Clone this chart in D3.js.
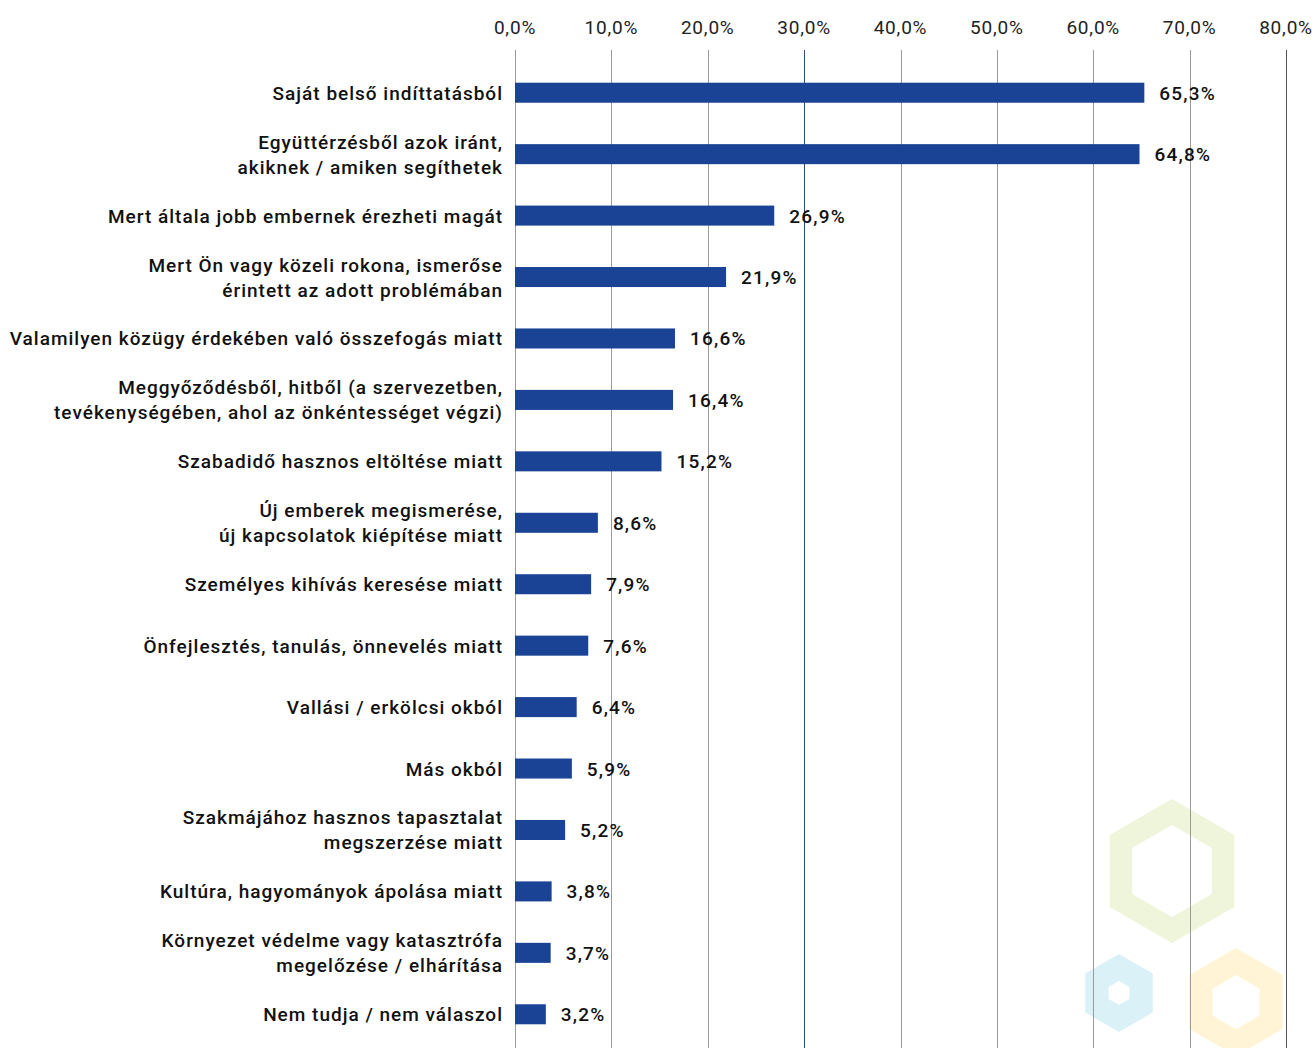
<!DOCTYPE html>
<html>
<head>
<meta charset="utf-8">
<script src="https://cdn.jsdelivr.net/npm/d3@7"></script>
<style>
  body { margin: 0; background: #fff; }
  text { font-family: Roboto, "DejaVu Sans Condensed", sans-serif; }
</style>
</head>
<body>
<svg id="chart" width="1316" height="1048"></svg>
<script>
// categories (multi-line labels split with "\n")
const categories = [
  "Saját belső indíttatásból",
  "Együttérzésből azok iránt,\nakiknek / amiken segíthetek",
  "Mert általa jobb embernek érezheti magát",
  "Mert Ön vagy közeli rokona, ismerőse\nérintett az adott problémában",
  "Valamilyen közügy érdekében való összefogás miatt",
  "Meggyőződésből, hitből (a szervezetben,\ntevékenységében, ahol az önkéntességet végzi)",
  "Szabadidő hasznos eltöltése miatt",
  "Új emberek megismerése,\núj kapcsolatok kiépítése miatt",
  "Személyes kihívás keresése miatt",
  "Önfejlesztés, tanulás, önnevelés miatt",
  "Vallási / erkölcsi okból",
  "Más okból",
  "Szakmájához hasznos tapasztalat\nmegszerzése miatt",
  "Kultúra, hagyományok ápolása miatt",
  "Környezet védelme vagy katasztrófa\nmegelőzése / elhárítása",
  "Nem tudja / nem válaszol"
];
const values = [65.3, 64.8, 26.9, 21.9, 16.6, 16.4, 15.2, 8.6, 7.9, 7.6, 6.4, 5.9, 5.2, 3.8, 3.7, 3.2];
const ticks = [0, 10, 20, 30, 40, 50, 60, 70, 80];

const fmt = v => v.toFixed(1).replace(".", ",") + "%";

const width = 1316, height = 1048;
const margin = { top: 62, right: 30, bottom: 3, left: 515 };

const svg = d3.select("#chart");

// decorative hexagons in the lower right corner
const hexes = [
  { cx: 1172, cy: 871, r: 72, inner: 46, color: "#eff5da" },
  { cx: 1119, cy: 993, r: 39, inner: 12, color: "#dbf1f8" },
  { cx: 1236, cy: 1002, r: 54, inner: 27, color: "#fff5d6" }
];
function hexPath(cx, cy, r) {
  const pts = d3.range(6).map(i => {
    const a = Math.PI / 3 * i - Math.PI / 2;
    return [cx + r * Math.cos(a), cy + r * Math.sin(a)];
  });
  return "M" + pts.join("L") + "Z";
}
svg.append("g").selectAll("path").data(hexes).join("path")
  .attr("d", d => hexPath(d.cx, d.cy, d.r) + hexPath(d.cx, d.cy, d.inner))
  .attr("fill", d => d.color)
  .attr("fill-rule", "evenodd");

const x = d3.scaleLinear().domain([0, 80]).range([margin.left, 1286]);
const y = d3.scaleBand().domain(categories).range([margin.top, height - margin.bottom]).paddingInner(0.674).paddingOuter(0.337);

// grid lines
svg.append("g").selectAll("line").data(ticks).join("line")
  .attr("x1", d => Math.round(x(d)) + 0.5)
  .attr("x2", d => Math.round(x(d)) + 0.5)
  .attr("y1", 50).attr("y2", height)
  .attr("stroke", d => d === 30 ? "#2a4f73" : d === 80 ? "#555" : "#9a9a9a")
  .attr("stroke-width", 1);

// top axis labels
svg.append("g").selectAll("text").data(ticks).join("text")
  .attr("x", d => x(d))
  .attr("y", 34)
  .attr("text-anchor", "middle")
  .attr("font-size", 19)
  .attr("letter-spacing", 0.8)
  .attr("fill", "#222")
  .text(d => fmt(d));

// bars
svg.append("g").selectAll("rect").data(values).join("rect")
  .attr("x", x(0))
  .attr("y", (d, i) => y(categories[i]))
  .attr("width", d => x(d) - x(0))
  .attr("height", y.bandwidth())
  .attr("fill", "#1a4396");

// value labels
svg.append("g").selectAll("text").data(values).join("text")
  .attr("x", d => x(d) + 15)
  .attr("y", (d, i) => y(categories[i]) + y.bandwidth() / 2 + 7)
  .attr("font-size", 19)
  .attr("font-weight", 500)
  .attr("letter-spacing", 1.2)
  .attr("fill", "#111")
  .text(d => fmt(d));

// category labels
const lab = svg.append("g").selectAll("text").data(categories).join("text")
  .attr("x", 503)
  .attr("text-anchor", "end")
  .attr("font-size", 19)
  .attr("font-weight", 500)
  .attr("letter-spacing", 1.0)
  .attr("fill", "#111")
  .attr("transform", d => {
    const n = d.split("\n").length;
    return `translate(0,${y(d) + y.bandwidth() / 2 + 7 - (n - 1) * 12.5})`;
  });
lab.selectAll("tspan").data(d => d.split("\n")).join("tspan")
  .attr("x", 503)
  .attr("dy", (d, i) => i === 0 ? 0 : 25)
  .text(d => d);
</script>
</body>
</html>
